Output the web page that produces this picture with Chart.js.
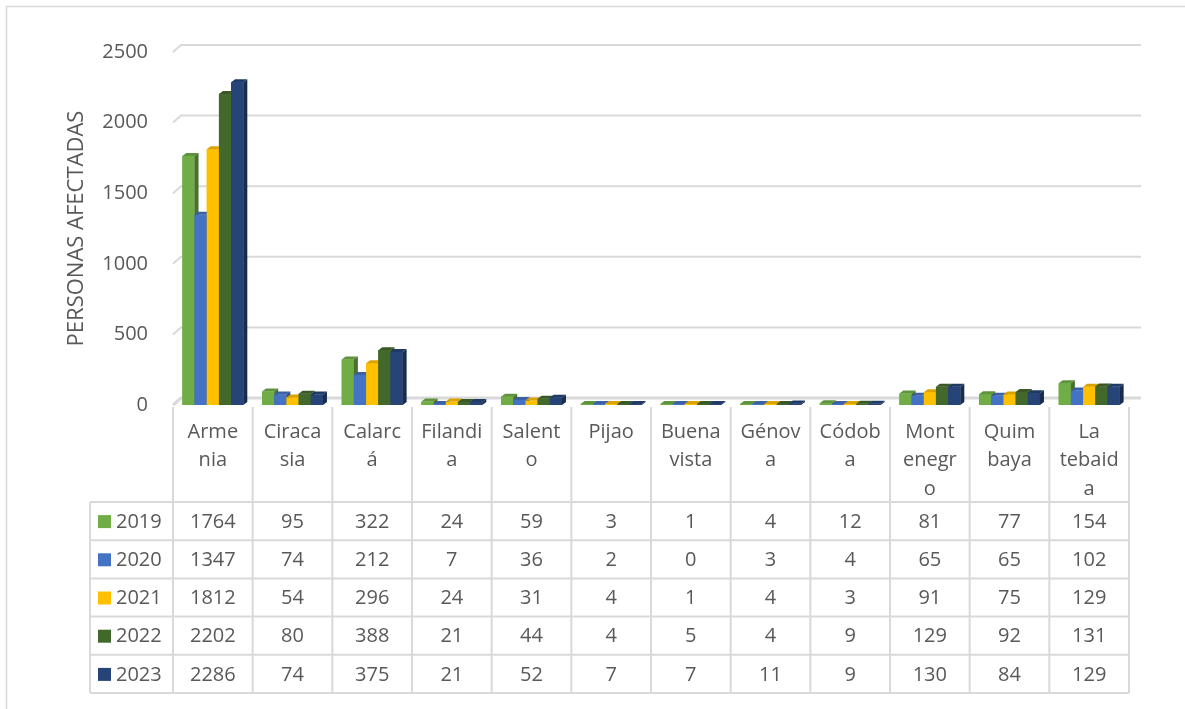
<!DOCTYPE html>
<html>
<head>
<meta charset="utf-8">
<script src="https://cdn.jsdelivr.net/npm/chart.js@4.4.1/dist/chart.umd.min.js"></script>
<style>
  html, body { margin: 0; padding: 0; background: #fff; }
  canvas { display: block; }
</style>
</head>
<body>
<canvas id="chart" width="1185" height="709"></canvas>
<script>
// Municipalities (label lines as they wrap in the data table header)
const CATEGORIES = [
  ["Arme", "nia"], ["Ciraca", "sia"], ["Calarc", "á"], ["Filandi", "a"],
  ["Salent", "o"], ["Pijao"], ["Buena", "vista"], ["Génov", "a"],
  ["Códob", "a"], ["Mont", "enegr", "o"], ["Quim", "baya"], ["La", "tebaid", "a"],
];
const YEARS = ["2019", "2020", "2021", "2022", "2023"];

const V2019 = [1764, 95, 322, 24, 59, 3, 1, 4, 12, 81, 77, 154];
const V2020 = [1347, 74, 212, 7, 36, 2, 0, 3, 4, 65, 65, 102];
const V2021 = [1812, 54, 296, 24, 31, 4, 1, 4, 3, 91, 75, 129];
const V2022 = [2202, 80, 388, 21, 44, 4, 5, 4, 9, 129, 92, 131];
const V2023 = [2286, 74, 375, 21, 52, 7, 7, 11, 9, 130, 84, 129];
const SERIES = [V2019, V2020, V2021, V2022, V2023];

const Y_MAX = 2500;
const Y_STEP = 500;
const Y_TITLE = "PERSONAS AFECTADAS";

const COLORS = ["#70AD47", "#4472C4", "#FFC000", "#43682B", "#264478"];

const TEXT = "#595959";
const LINE = "#d9d9d9";
const FONT = "'Open Sans', sans-serif";

function shade(hex, f) {
  const n = parseInt(hex.slice(1), 16);
  const r = Math.round(((n >> 16) & 255) * f);
  const g = Math.round(((n >> 8) & 255) * f);
  const b = Math.round((n & 255) * f);
  return `rgb(${r},${g},${b})`;
}

// ── Back-wall gridlines with the little 3D stub on the left ───────────────

const wallPlugin = {
  id: "wall",
  beforeDatasetsDraw(chart) {
    const { ctx, chartArea: a, scales: { y } } = chart;
    ctx.save();
    ctx.strokeStyle = LINE;
    y.ticks.forEach(t => {
      const py = y.getPixelForValue(t.value);
      ctx.lineWidth = t.value === 0 ? 3 : 2;
      ctx.beginPath();
      ctx.moveTo(a.left, py);
      ctx.lineTo(a.left + 8, py - 7);
      ctx.lineTo(a.right + 12, py - 7);
      ctx.stroke();
    });
    ctx.restore();
  },
};

// ── Fake 3D: redraw fronts in category order, add top and side faces ──────

const DX = 4, DY = 3;
const bars3dPlugin = {
  id: "bars3d",
  afterDatasetsDraw(chart) {
    const ctx = chart.ctx;
    const metas = SERIES.map((_, i) => chart.getDatasetMeta(i));
    ctx.save();
    for (let c = 0; c < CATEGORIES.length; c++) {
      metas.forEach((meta, s) => {
        const el = meta.data[c];
        const l = el.x - el.width / 2, r = el.x + el.width / 2;
        const top = Math.min(el.y, el.base - 1), bot = el.base;
        ctx.fillStyle = COLORS[s];
        ctx.fillRect(l, top, r - l, bot - top);
        ctx.fillStyle = shade(COLORS[s], 0.85);
        ctx.beginPath();
        ctx.moveTo(l, top); ctx.lineTo(l + DX, top - DY);
        ctx.lineTo(r + DX, top - DY); ctx.lineTo(r, top);
        ctx.closePath(); ctx.fill();
        ctx.fillStyle = shade(COLORS[s], 0.65);
        ctx.beginPath();
        ctx.moveTo(r, top); ctx.lineTo(r + DX, top - DY);
        ctx.lineTo(r + DX, bot - DY); ctx.lineTo(r, bot);
        ctx.closePath(); ctx.fill();
      });
    }
    ctx.restore();
  },
};

// ── Data table under the plot ──────────────────────────────────────────────

const tablePlugin = {
  id: "table",
  afterDraw(chart) {
    const { ctx, chartArea: a, scales: { x } } = chart;
    const n = CATEGORIES.length;
    const colW = (a.right - a.left) / n;
    const headTop = a.bottom;
    const rowTop = a.bottom + 97;
    const rowH = 38.2;
    const legLeft = 90;
    const bottom = rowTop + rowH * YEARS.length;

    ctx.save();
    // outer chart border
    ctx.strokeStyle = LINE;
    ctx.lineWidth = 1.5;
    ctx.beginPath();
    ctx.moveTo(6.5, chart.height);
    ctx.lineTo(6.5, 6.5);
    ctx.lineTo(chart.width, 6.5);
    ctx.stroke();

    ctx.lineWidth = 2;
    ctx.beginPath();
    for (let i = 0; i <= n; i++) {
      const bx = a.left + i * colW;
      ctx.moveTo(bx, headTop + 2);
      ctx.lineTo(bx, bottom);
    }
    ctx.moveTo(legLeft, rowTop);
    ctx.lineTo(legLeft, bottom);
    for (let r = 0; r <= YEARS.length; r++) {
      const ry = rowTop + r * rowH;
      ctx.moveTo(legLeft, ry);
      ctx.lineTo(a.right, ry);
    }
    ctx.stroke();

    ctx.fillStyle = TEXT;
    ctx.font = `20px ${FONT}`;
    ctx.textAlign = "center";
    ctx.textBaseline = "middle";
    CATEGORIES.forEach((lines, i) => {
      const cx = x.getPixelForValue(i);
      lines.forEach((t, k) => ctx.fillText(t, cx, headTop + 27 + k * 28.5));
    });

    YEARS.forEach((yr, r) => {
      const cy = rowTop + r * rowH + rowH / 2 + 1;
      ctx.fillStyle = COLORS[r];
      ctx.fillRect(98, cy - 7, 13, 13);
      ctx.fillStyle = TEXT;
      ctx.textAlign = "left";
      ctx.fillText(yr, 116, cy);
      ctx.textAlign = "center";
      SERIES[r].forEach((v, i) => ctx.fillText(String(v), x.getPixelForValue(i), cy));
    });
    ctx.restore();
  },
};

new Chart(document.getElementById("chart"), {
  type: "bar",
  data: {
    labels: CATEGORIES.map(l => l.join("")),
    datasets: SERIES.map((d, i) => ({
      label: YEARS[i],
      data: d,
      backgroundColor: COLORS[i],
      borderWidth: 0,
      barPercentage: 1,
      categoryPercentage: 0.765,
    })),
  },
  options: {
    responsive: false,
    animation: false,
    devicePixelRatio: 1,
    layout: { padding: { left: 64, top: 52, right: 56, bottom: 304 } },
    plugins: { legend: { display: false }, tooltip: { enabled: false } },
    scales: {
      x: { display: false },
      y: {
        min: 0,
        max: Y_MAX,
        border: { display: false },
        grid: { display: false, drawTicks: false },
        ticks: {
          stepSize: Y_STEP,
          padding: 25,
          color: TEXT,
          font: { family: FONT, size: 20 },
          callback: v => String(v),
        },
        title: {
          display: true,
          text: Y_TITLE,
          color: TEXT,
          padding: 0,
          font: { family: FONT, size: 22 },
        },
        afterFit: s => { s.width = 109; },
      },
    },
  },
  plugins: [wallPlugin, bars3dPlugin, tablePlugin],
});
</script>
</body>
</html>
